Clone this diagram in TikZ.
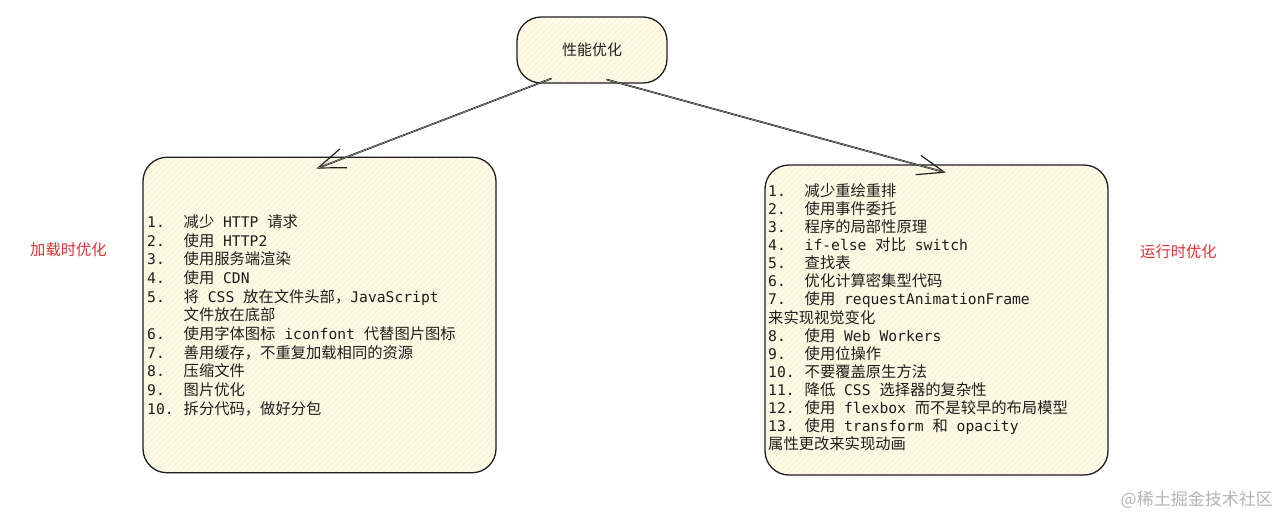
\documentclass[tikz,border=0pt]{standalone}
\usepackage{fontspec}
\setmainfont{Noto Sans CJK SC}
\newfontfamily\monofont{DejaVu Sans Mono}[Scale=0.96]
\usetikzlibrary{arrows.meta,patterns.meta}
\definecolor{ink}{HTML}{1E1E1E}
\definecolor{cream}{HTML}{FDFAE6}
\definecolor{hatch}{HTML}{F3EBC6}
\definecolor{redtxt}{HTML}{E03131}
\definecolor{wm}{HTML}{B5B5B5}
\newcommand\M[1]{{\monofont #1}}
\newcommand\nm[1]{\makebox[36.5pt][l]{\M{#1}}}
\tikzset{
  sketchbox/.style={rounded corners=24pt, preaction={fill=cream},
    pattern={Lines[angle=45,distance=4pt,line width=0.5pt]}, pattern color=hatch,
    draw=ink, line width=1.3pt, inner sep=0pt},
  listtext/.style={anchor=base west, inner sep=0pt, text=ink},
  sidelabel/.style={text=redtxt, font=\fontsize{15.3}{18}\selectfont, inner sep=0pt},
  arrowline/.style={draw=ink, line width=1.7pt, line cap=round,
    -{Straight Barb[length=27pt,width=20pt,line width=1.2pt]},
    postaction={draw=white!65!ink, line width=0.45pt, -}}
}
\begin{document}
\begin{tikzpicture}[x=1pt,y=-1pt]
\useasboundingbox[fill=white] (0,0) rectangle (1280,517);

\node[sketchbox, minimum width=150pt, minimum height=66pt, text=ink,
      font=\fontsize{15}{18}\selectfont] (top) at (592,50) {性能优化};

\node[sketchbox, minimum width=353pt, minimum height=315.5pt] (lbox) at (319.5,315) {};
\node[sketchbox, minimum width=343pt, minimum height=310pt] (rbox) at (936.5,320) {};

\node[listtext] (ltext) at (147,227.4) {\fontsize{15.3}{18.66}\selectfont
\begin{tabular}[t]{@{}l@{}}
\nm{1.}减少\M{ HTTP }请求\\
\nm{2.}使用\M{ HTTP2}\\
\nm{3.}使用服务端渲染\\
\nm{4.}使用\M{ CDN}\\
\nm{5.}将\M{ CSS }放在文件头部，\M{JavaScript}\\
\hspace*{36.5pt}文件放在底部\\
\nm{6.}使用字体图标\M{ iconfont }代替图片图标\\
\nm{7.}善用缓存，不重复加载相同的资源\\
\nm{8.}压缩文件\\
\nm{9.}图片优化\\
\nm{10.}拆分代码，做好分包
\end{tabular}};

\node[listtext] (rtext) at (768,196.4) {\fontsize{15.3}{17.3}\selectfont
\begin{tabular}[t]{@{}l@{}}
\nm{1.}减少重绘重排\\
\nm{2.}使用事件委托\\
\nm{3.}程序的局部性原理\\
\nm{4.}\M{if-else }对比\M{ switch}\\
\nm{5.}查找表\\
\nm{6.}优化计算密集型代码\\
\nm{7.}使用\M{ requestAnimationFrame}\\
来实现视觉变化\\
\nm{8.}使用\M{ Web Workers}\\
\nm{9.}使用位操作\\
\nm{10.}不要覆盖原生方法\\
\nm{11.}降低\M{ CSS }选择器的复杂性\\
\nm{12.}使用\M{ flexbox }而不是较早的布局模型\\
\nm{13.}使用\M{ transform }和\M{ opacity}\\
属性更改来实现动画
\end{tabular}};

\node[sidelabel, anchor=west] (lload) at (30,250) {加载时优化};
\node[sidelabel, anchor=west] (lrun) at (1140,252) {运行时优化};
\node[text=wm, font=\fontsize{17}{20}\selectfont, inner sep=0pt, anchor=east] (wmark) at (1273,500) {@稀土掘金技术社区};

\coordinate (las) at ([shift={(-41,-5)}]top.south);
\coordinate (lat) at ([shift={(-3,12)}]lbox.north);
\coordinate (ras) at ([shift={(15,-4)}]top.south);
\coordinate (rat) at ([shift={(9.5,8.3)}]rbox.north);
\draw[arrowline] (las) -- (lat);
\draw[arrowline] (ras) -- (rat);
\end{tikzpicture}
\end{document}
